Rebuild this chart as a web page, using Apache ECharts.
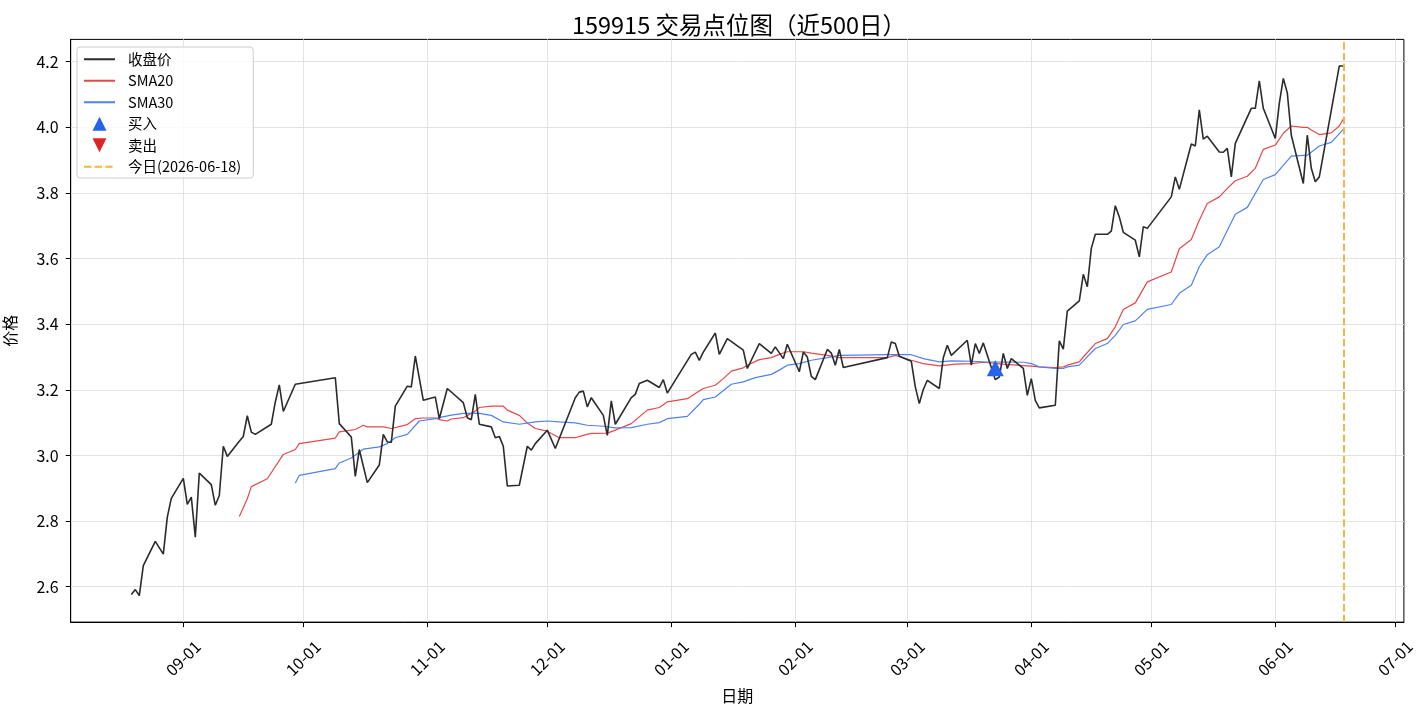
<!DOCTYPE html>
<html>
<head>
<meta charset="utf-8">
<script src="https://cdn.jsdelivr.net/npm/echarts@6/dist/echarts.min.js"></script>
<style>
  html, body { margin: 0; padding: 0; background: #fff; }
  #chart { width: 1426px; height: 706px; }
</style>
</head>
<body>
<div id="chart"></div>
<script>
// closing price (vertices)
const closeDates = [
  '2025-08-19','2025-08-20','2025-08-21','2025-08-22','2025-08-25','2025-08-27','2025-08-28','2025-08-29',
  '2025-09-01','2025-09-02','2025-09-03','2025-09-04','2025-09-05','2025-09-08','2025-09-09','2025-09-10',
  '2025-09-11','2025-09-12','2025-09-15','2025-09-16','2025-09-17','2025-09-18','2025-09-19','2025-09-23',
  '2025-09-24','2025-09-25','2025-09-26','2025-09-29','2025-10-09','2025-10-10','2025-10-13','2025-10-14',
  '2025-10-15','2025-10-17','2025-10-20','2025-10-21','2025-10-22','2025-10-23','2025-10-24','2025-10-27',
  '2025-10-28','2025-10-29','2025-10-31','2025-11-03','2025-11-04','2025-11-06','2025-11-10','2025-11-11',
  '2025-11-12','2025-11-13','2025-11-14','2025-11-17','2025-11-18','2025-11-19','2025-11-20','2025-11-21',
  '2025-11-24','2025-11-26','2025-11-27','2025-11-28','2025-12-01','2025-12-03','2025-12-08','2025-12-09',
  '2025-12-10','2025-12-11','2025-12-12','2025-12-15','2025-12-16','2025-12-17','2025-12-18','2025-12-22',
  '2025-12-23','2025-12-24','2025-12-26','2025-12-29','2025-12-30','2025-12-31','2026-01-06','2026-01-07',
  '2026-01-08','2026-01-09','2026-01-12','2026-01-13','2026-01-15','2026-01-19','2026-01-20','2026-01-23',
  '2026-01-26','2026-01-27','2026-01-29','2026-01-30','2026-02-02','2026-02-03','2026-02-04','2026-02-05',
  '2026-02-06','2026-02-09','2026-02-10','2026-02-11','2026-02-12','2026-02-13','2026-02-24','2026-02-25',
  '2026-02-26','2026-02-27','2026-03-02','2026-03-03','2026-03-04','2026-03-05','2026-03-06','2026-03-09',
  '2026-03-10','2026-03-11','2026-03-12','2026-03-16','2026-03-17','2026-03-18','2026-03-19','2026-03-20',
  '2026-03-23','2026-03-24','2026-03-25','2026-03-26','2026-03-27','2026-03-30','2026-03-31','2026-04-01',
  '2026-04-02','2026-04-03','2026-04-07','2026-04-08','2026-04-09','2026-04-10','2026-04-13','2026-04-14',
  '2026-04-15','2026-04-16','2026-04-17','2026-04-20','2026-04-21','2026-04-22','2026-04-23','2026-04-24',
  '2026-04-27','2026-04-28','2026-04-29','2026-04-30','2026-05-06','2026-05-07','2026-05-08','2026-05-11',
  '2026-05-12','2026-05-13','2026-05-14','2026-05-15','2026-05-18','2026-05-19','2026-05-20','2026-05-21',
  '2026-05-22','2026-05-26','2026-05-27','2026-05-28','2026-05-29','2026-06-01','2026-06-02','2026-06-03',
  '2026-06-04','2026-06-05','2026-06-08','2026-06-09','2026-06-10','2026-06-11','2026-06-12','2026-06-17',
  '2026-06-18'
]
const closeValues = [
  2.576, 2.591, 2.573, 2.664, 2.738, 2.699, 2.812, 2.869,
  2.930, 2.851, 2.873, 2.751, 2.946, 2.911, 2.848, 2.878,
  3.028, 2.997, 3.043, 3.058, 3.121, 3.071, 3.064, 3.095,
  3.163, 3.215, 3.134, 3.217, 3.237, 3.097, 3.056, 2.936,
  3.018, 2.917, 2.971, 3.064, 3.041, 3.040, 3.150, 3.211,
  3.209, 3.303, 3.168, 3.178, 3.112, 3.204, 3.161, 3.115,
  3.109, 3.186, 3.095, 3.087, 3.054, 3.058, 3.028, 2.907,
  2.909, 3.028, 3.016, 3.036, 3.077, 3.021, 3.176, 3.193,
  3.196, 3.148, 3.176, 3.122, 3.061, 3.166, 3.095, 3.176,
  3.186, 3.219, 3.229, 3.207, 3.231, 3.190, 3.308, 3.315,
  3.290, 3.315, 3.373, 3.308, 3.356, 3.321, 3.265, 3.341,
  3.311, 3.331, 3.295, 3.339, 3.255, 3.315, 3.300, 3.241,
  3.231, 3.323, 3.312, 3.275, 3.323, 3.268, 3.298, 3.346,
  3.341, 3.302, 3.287, 3.209, 3.158, 3.201, 3.229, 3.204,
  3.298, 3.336, 3.305, 3.351, 3.275, 3.341, 3.311, 3.343,
  3.231, 3.239, 3.311, 3.265, 3.295, 3.265, 3.183, 3.234,
  3.168, 3.145, 3.153, 3.349, 3.324, 3.440, 3.471, 3.552,
  3.514, 3.631, 3.674, 3.674, 3.684, 3.761, 3.727, 3.680,
  3.656, 3.605, 3.697, 3.692, 3.788, 3.849, 3.811, 3.949,
  3.943, 4.053, 3.964, 3.973, 3.925, 3.924, 3.936, 3.849,
  3.951, 4.058, 4.058, 4.142, 4.058, 3.966, 4.073, 4.149,
  4.105, 3.976, 3.829, 3.976, 3.875, 3.834, 3.849, 4.187,
  4.187
]

const sma20Dates = [
  '2025-09-15','2025-09-17','2025-09-18','2025-09-22','2025-09-26','2025-09-29','2025-09-30','2025-10-09',
  '2025-10-10','2025-10-14','2025-10-16','2025-10-17','2025-10-21','2025-10-23','2025-10-27','2025-10-29',
  '2025-10-31','2025-11-03','2025-11-04','2025-11-06','2025-11-07','2025-11-10','2025-11-13','2025-11-14',
  '2025-11-17','2025-11-20','2025-11-21','2025-11-24','2025-11-26','2025-11-28','2025-12-01','2025-12-02',
  '2025-12-04','2025-12-08','2025-12-10','2025-12-12','2025-12-16','2025-12-18','2025-12-22','2025-12-26',
  '2025-12-29','2025-12-31','2026-01-05','2026-01-07','2026-01-09','2026-01-12','2026-01-14','2026-01-16',
  '2026-01-19','2026-01-20','2026-01-23','2026-01-26','2026-01-28','2026-01-30','2026-02-03','2026-02-05',
  '2026-02-09','2026-02-12','2026-02-24','2026-02-26','2026-03-02','2026-03-05','2026-03-09','2026-03-13',
  '2026-03-17','2026-03-20','2026-03-25','2026-03-30','2026-04-01','2026-04-03','2026-04-07','2026-04-09',
  '2026-04-10','2026-04-13','2026-04-14','2026-04-17','2026-04-20','2026-04-22','2026-04-24','2026-04-27',
  '2026-04-30','2026-05-06','2026-05-08','2026-05-11','2026-05-13','2026-05-15','2026-05-18','2026-05-20',
  '2026-05-22','2026-05-25','2026-05-27','2026-05-29','2026-06-01','2026-06-03','2026-06-05','2026-06-08',
  '2026-06-09','2026-06-10','2026-06-12','2026-06-15','2026-06-17','2026-06-18'
]
const sma20Values = [
  2.814, 2.868, 2.905, 2.929, 3.003, 3.018, 3.036, 3.053,
  3.072, 3.079, 3.092, 3.087, 3.087, 3.082, 3.094, 3.112,
  3.114, 3.114, 3.109, 3.105, 3.111, 3.115, 3.135, 3.146,
  3.150, 3.150, 3.138, 3.122, 3.099, 3.082, 3.074, 3.067,
  3.054, 3.054, 3.061, 3.067, 3.068, 3.077, 3.097, 3.138,
  3.146, 3.163, 3.173, 3.189, 3.204, 3.214, 3.234, 3.257,
  3.267, 3.275, 3.292, 3.298, 3.308, 3.316, 3.316, 3.312,
  3.305, 3.298, 3.298, 3.305, 3.290, 3.280, 3.273, 3.278,
  3.280, 3.284, 3.278, 3.274, 3.272, 3.270, 3.268, 3.270,
  3.275, 3.285, 3.300, 3.341, 3.356, 3.392, 3.445, 3.465,
  3.529, 3.559, 3.630, 3.658, 3.717, 3.768, 3.788, 3.814,
  3.837, 3.851, 3.875, 3.933, 3.946, 3.982, 4.004, 4.000,
  4.000, 3.992, 3.978, 3.983, 4.004, 4.025
]

const sma30Dates = [
  '2025-09-29','2025-09-30','2025-10-09','2025-10-10','2025-10-13','2025-10-16','2025-10-20','2025-10-22',
  '2025-10-24','2025-10-27','2025-10-30','2025-11-03','2025-11-04','2025-11-07','2025-11-10','2025-11-14',
  '2025-11-17','2025-11-20','2025-11-24','2025-11-28','2025-12-01','2025-12-04','2025-12-08','2025-12-11',
  '2025-12-15','2025-12-18','2025-12-22','2025-12-26','2025-12-29','2025-12-31','2026-01-05','2026-01-08',
  '2026-01-09','2026-01-12','2026-01-16','2026-01-19','2026-01-22','2026-01-26','2026-01-28','2026-01-30',
  '2026-02-02','2026-02-05','2026-02-09','2026-02-12','2026-02-24','2026-03-02','2026-03-05','2026-03-09',
  '2026-03-12','2026-03-17','2026-03-20','2026-03-30','2026-04-01','2026-04-03','2026-04-07','2026-04-09',
  '2026-04-10','2026-04-13','2026-04-14','2026-04-17','2026-04-20','2026-04-22','2026-04-24','2026-04-27',
  '2026-04-30','2026-05-06','2026-05-08','2026-05-11','2026-05-13','2026-05-15','2026-05-18','2026-05-22',
  '2026-05-25','2026-05-29','2026-06-01','2026-06-05','2026-06-09','2026-06-12','2026-06-15','2026-06-18'
]
const sma30Values = [
  2.916, 2.939, 2.960, 2.977, 2.992, 3.019, 3.026, 3.036,
  3.054, 3.064, 3.105, 3.112, 3.115, 3.123, 3.128, 3.128,
  3.122, 3.102, 3.095, 3.102, 3.105, 3.102, 3.099, 3.092,
  3.089, 3.084, 3.085, 3.095, 3.100, 3.112, 3.119, 3.156,
  3.170, 3.178, 3.217, 3.224, 3.237, 3.247, 3.260, 3.275,
  3.280, 3.290, 3.298, 3.305, 3.307, 3.307, 3.295, 3.285,
  3.288, 3.287, 3.285, 3.284, 3.280, 3.270, 3.265, 3.265,
  3.270, 3.275, 3.288, 3.326, 3.341, 3.366, 3.399, 3.410,
  3.445, 3.460, 3.494, 3.519, 3.575, 3.612, 3.636, 3.735,
  3.756, 3.841, 3.856, 3.912, 3.915, 3.943, 3.954, 3.994
]

const buyDates = ['2026-03-23']
const buyValues = [3.266]
const sellDates = []
const sellValues = []
const todayDate = '2026-06-18'

const xTickDates = ['2025-09-01','2025-10-01','2025-11-01','2025-12-01','2026-01-01','2026-02-01',
  '2026-03-01','2026-04-01','2026-05-01','2026-06-01','2026-07-01']
const yTicks = [2.6, 2.8, 3.0, 3.2, 3.4, 3.6, 3.8, 4.0, 4.2]

const DAY = 86400000
const toTime = s => { const p = s.split('-'); return new Date(+p[0], +p[1] - 1, +p[2]).getTime() }
const pairs = (dates, vals) => dates.map((d, i) => [toTime(d), vals[i]])
const mmdd = t => { const d = new Date(t); return String(d.getMonth() + 1).padStart(2, '0') + '-' + String(d.getDate()).padStart(2, '0') }

const font = "'Noto Sans CJK SC', 'Noto Sans', sans-serif"
const colors = {
  close: '#2b2b2b',
  sma20: '#e5484a',
  sma30: '#4d82f0',
  buy: '#2563eb',
  sell: '#dc2626',
  today: '#f6b443',
  grid: '#e3e3e3'
}
const upTri = 'path://M5,0 L10,10 L0,10 Z'
const downTri = 'path://M0,0 L10,0 L5,10 Z'
const noDot = { opacity: 0 }

// matplotlib-like 5% margins around the data span
const xMin = toTime(closeDates[0]) - 15.15 * DAY
const xMax = toTime(todayDate) + 15.15 * DAY
const xTicks = xTickDates.map(toTime)

const chart = echarts.init(document.getElementById('chart'))
chart.setOption({
  animation: false,
  textStyle: { fontFamily: font },
  title: {
    text: '159915 交易点位图（近500日）',
    left: 734,
    textAlign: 'center',
    top: 8,
    textStyle: { fontSize: 23.5, fontWeight: 'normal', color: '#000', fontFamily: font }
  },
  grid: {
    left: 70.7, right: 22.1, top: 39.4, bottom: 83.9,
    outerBoundsMode: 'none', containLabel: false,
    show: true, borderColor: '#000', borderWidth: 1, backgroundColor: 'transparent'
  },
  legend: {
    orient: 'vertical',
    left: 77, top: 47,
    padding: [5, 12, 4, 6],
    itemWidth: 31, itemHeight: 14, itemGap: 7,
    backgroundColor: 'rgba(255,255,255,0.8)',
    borderColor: '#cccccc', borderWidth: 1, borderRadius: 3,
    textStyle: { fontSize: 14.5, color: '#000', fontFamily: font, lineHeight: 14, padding: [0, 0, 0, 8] },
    data: [
      { name: '收盘价', itemStyle: noDot },
      { name: 'SMA20', itemStyle: noDot },
      { name: 'SMA30', itemStyle: noDot },
      { name: '买入', icon: upTri },
      { name: '卖出', icon: downTri },
      { name: '今日(2026-06-18)', itemStyle: noDot }
    ]
  },
  xAxis: {
    type: 'value',
    min: xMin, max: xMax,
    axisLine: { show: true, onZero: false, lineStyle: { color: '#000', width: 1 } },
    axisTick: { show: true, length: 5, customValues: xTicks, lineStyle: { color: '#000' } },
    axisLabel: {
      customValues: xTicks,
      formatter: v => mmdd(v),
      rotate: 45, align: 'center', verticalAlign: 'middle', margin: 36,
      fontSize: 16, color: '#000', fontFamily: font
    },
    splitLine: { show: true, lineStyle: { color: colors.grid, width: 1 } },
    name: '日期', nameLocation: 'middle', nameGap: 66,
    nameTextStyle: { fontSize: 16, color: '#000', fontFamily: font }
  },
  yAxis: {
    type: 'value',
    min: 2.492, max: 4.268,
    axisLine: { show: true, lineStyle: { color: '#000', width: 1 } },
    axisTick: { show: true, length: 5, customValues: yTicks, lineStyle: { color: '#000' } },
    axisLabel: {
      customValues: yTicks,
      formatter: v => v.toFixed(1),
      margin: 12, fontSize: 16, color: '#000', fontFamily: font
    },
    splitLine: { show: true, lineStyle: { color: colors.grid, width: 1 } },
    name: '价格', nameLocation: 'middle', nameGap: 53, nameRotate: 90,
    nameTextStyle: { fontSize: 16, color: '#000', fontFamily: font }
  },
  series: [
    {
      name: '收盘价', type: 'line', data: pairs(closeDates, closeValues),
      symbol: 'none', z: 4,
      lineStyle: { color: colors.close, width: 1.6 }, itemStyle: { color: colors.close }
    },
    {
      name: 'SMA20', type: 'line', data: pairs(sma20Dates, sma20Values),
      symbol: 'none', z: 3,
      lineStyle: { color: colors.sma20, width: 1.2 }, itemStyle: { color: colors.sma20 }
    },
    {
      name: 'SMA30', type: 'line', data: pairs(sma30Dates, sma30Values),
      symbol: 'none', z: 3,
      lineStyle: { color: colors.sma30, width: 1.2 }, itemStyle: { color: colors.sma30 }
    },
    {
      name: '买入', type: 'scatter', data: pairs(buyDates, buyValues),
      symbol: upTri, symbolSize: [17, 16], symbolKeepAspect: false, z: 6,
      itemStyle: { color: colors.buy, opacity: 1 }
    },
    {
      name: '卖出', type: 'scatter', data: pairs(sellDates, sellValues),
      symbol: downTri, symbolSize: [17, 16], symbolKeepAspect: false, z: 6,
      itemStyle: { color: colors.sell, opacity: 1 }
    },
    {
      name: '今日(2026-06-18)', type: 'line', data: [],
      symbol: 'none', z: 5,
      lineStyle: { color: colors.today, width: 2, type: [7.4, 3.2] },
      itemStyle: { color: colors.today },
      markLine: {
        silent: true, symbol: ['none', 'none'],
        label: { show: false },
        lineStyle: { color: colors.today, width: 2, type: [7.4, 3.2] },
        data: [{ xAxis: toTime(todayDate) }]
      }
    }
  ]
})
</script>
</body>
</html>
